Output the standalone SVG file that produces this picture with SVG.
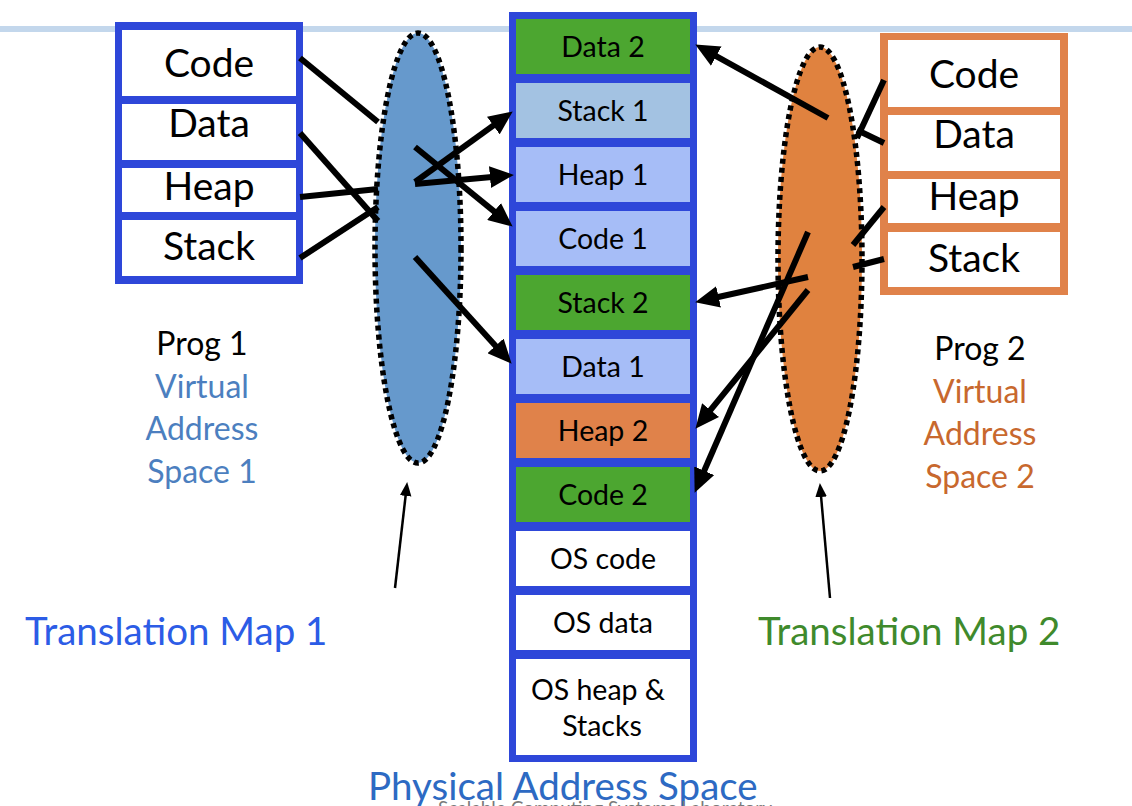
<svg xmlns="http://www.w3.org/2000/svg" width="1132" height="806" viewBox="0 0 1132 806">
<style>
text{font-family:Lato,"Open Sans","Liberation Sans",sans-serif;}
.vb{font-size:39px;fill:#000;text-anchor:middle;}
.pc{font-size:28.5px;fill:#000;text-anchor:middle;}
.lbl{font-size:32px;text-anchor:middle;}
.big{font-size:38.5px;}
.green{fill:#4ca630;}
.peri{fill:#a6bdf7;}
.lblue{fill:#a3c2e2;}
.orange{fill:#e0824a;}
.white{fill:#fff;}
.conn{stroke:#000;stroke-width:6;fill:none;stroke-linecap:butt;}
.thin{stroke:#000;stroke-width:2.5;fill:none;}
.ell{stroke:#000;stroke-width:5.5;stroke-dasharray:5 4;}
</style>
<defs>
<marker id="ah" markerUnits="userSpaceOnUse" markerWidth="24" markerHeight="22" refX="12" refY="10" orient="auto" viewBox="0 0 22 20">
<path d="M0,0 L22,10 L0,20 z" fill="#000"/>
</marker>
<marker id="ahs" markerUnits="userSpaceOnUse" markerWidth="14" markerHeight="12" refX="6" refY="5" orient="auto" viewBox="0 0 12 10">
<path d="M0,0 L12,5 L0,10 z" fill="#000"/>
</marker>
</defs>
<rect width="1132" height="806" fill="#fff"/>
<rect x="0" y="26" width="1132" height="6" fill="#c3d7ec"/>

<g id="prog1-vas">
<rect x="115" y="22" width="188" height="262" fill="#2e47d9"/>
<rect x="122" y="30" width="174" height="66" class="white"/>
<rect x="122" y="104" width="174" height="56" class="white"/>
<rect x="122" y="168" width="174" height="44" class="white"/>
<rect x="122" y="220" width="174" height="56" class="white"/>
<text class="vb" x="209" y="77">Code</text>
<text class="vb" x="209" y="137">Data</text>
<text class="vb" x="209" y="200">Heap</text>
<text class="vb" x="209" y="260">Stack</text>
</g>

<g id="prog2-vas">
<rect x="880" y="33" width="188" height="262" fill="#e0824a"/>
<rect x="888" y="40" width="172" height="67" class="white"/>
<rect x="888" y="115" width="172" height="56" class="white"/>
<rect x="888" y="179" width="172" height="44" class="white"/>
<rect x="888" y="232" width="172" height="55" class="white"/>
<text class="vb" x="974" y="88">Code</text>
<text class="vb" x="974" y="148">Data</text>
<text class="vb" x="974" y="210">Heap</text>
<text class="vb" x="974" y="272">Stack</text>
</g>

<g id="translation-map-1">
<ellipse cx="418" cy="248" rx="43" ry="215" fill="#6699cc" class="ell"/>
</g>
<g id="translation-map-2">
<ellipse cx="820" cy="259" rx="42" ry="212" fill="#e0823f" class="ell"/>
</g>

<g id="physical-address-space">
<rect x="509" y="12" width="188" height="750" fill="#2e47d9"/>
<rect x="516" y="19" width="174" height="55" class="green"/>
<rect x="516" y="83" width="174" height="55" class="lblue"/>
<rect x="516" y="147" width="174" height="55" class="peri"/>
<rect x="516" y="211" width="174" height="55" class="peri"/>
<rect x="516" y="275" width="174" height="55" class="green"/>
<rect x="516" y="339" width="174" height="55" class="peri"/>
<rect x="516" y="403" width="174" height="55" class="orange"/>
<rect x="516" y="467" width="174" height="55" class="green"/>
<rect x="516" y="531" width="174" height="55" class="white"/>
<rect x="516" y="595" width="174" height="55" class="white"/>
<rect x="516" y="659" width="174" height="96" class="white"/>
<text class="pc" x="603" y="57">Data 2</text>
<text class="pc" x="603" y="121">Stack 1</text>
<text class="pc" x="603" y="185">Heap 1</text>
<text class="pc" x="603" y="249">Code 1</text>
<text class="pc" x="603" y="313">Stack 2</text>
<text class="pc" x="603" y="377">Data 1</text>
<text class="pc" x="603" y="441">Heap 2</text>
<text class="pc" x="603" y="505">Code 2</text>
<text class="pc" x="603" y="569">OS code</text>
<text class="pc" x="603" y="633">OS data</text>
<text class="pc" x="598" y="700">OS heap &amp;</text>
<text class="pc" x="602" y="736">Stacks</text>
</g>

<g id="connectors">
<line class="conn" x1="300" y1="58" x2="378" y2="122"/>
<line class="conn" x1="300" y1="133" x2="378" y2="221"/>
<line class="conn" x1="300" y1="197" x2="378" y2="189"/>
<line class="conn" x1="300" y1="258" x2="378" y2="207"/>
<line class="conn" x1="415" y1="147" x2="504.2" y2="219.7" marker-end="url(#ah)"/>
<line class="conn" x1="415" y1="184" x2="503" y2="175.9" marker-end="url(#ah)"/>
<line class="conn" x1="415" y1="182" x2="503.9" y2="117.9" marker-end="url(#ah)"/>
<line class="conn" x1="415" y1="257" x2="504.3" y2="355.6" marker-end="url(#ah)"/>
<line class="conn" x1="884" y1="80" x2="857" y2="138"/>
<line class="conn" x1="884" y1="143" x2="857" y2="130"/>
<line class="conn" x1="884" y1="207" x2="853" y2="245"/>
<line class="conn" x1="884" y1="259" x2="853" y2="267"/>
<line class="conn" x1="828" y1="118" x2="704.8" y2="49.8" marker-end="url(#ah)"/>
<line class="conn" x1="808" y1="277" x2="705.8" y2="299.8" marker-end="url(#ah)"/>
<line class="conn" x1="808" y1="290" x2="702.3" y2="420.2" marker-end="url(#ah)"/>
<line class="conn" x1="808" y1="232" x2="699" y2="482.8" marker-end="url(#ah)"/>
<line class="thin" x1="395" y1="588" x2="406.4" y2="489" marker-end="url(#ahs)"/>
<line class="thin" x1="830" y1="598" x2="820.5" y2="490" marker-end="url(#ahs)"/>
</g>

<g id="labels">
<text class="lbl" x="202" y="355" fill="#000">Prog 1</text>
<text class="lbl" x="202" y="398" fill="#4c7fbf">Virtual</text>
<text class="lbl" x="202" y="440" fill="#4c7fbf">Address</text>
<text class="lbl" x="202" y="483" fill="#4c7fbf">Space 1</text>
<text class="lbl" x="980" y="360" fill="#000">Prog 2</text>
<text class="lbl" x="980" y="403" fill="#c8682e">Virtual</text>
<text class="lbl" x="980" y="445" fill="#c8682e">Address</text>
<text class="lbl" x="980" y="488" fill="#c8682e">Space 2</text>
<text class="big" x="25" y="645" fill="#2c5ce6">Translation Map 1</text>
<text class="big" x="758" y="645" fill="#3f8a2c">Translation Map 2</text>
<text class="big" x="368" y="800" fill="#2d6ac3">Physical Address Space</text>
<text x="438" y="815" font-size="19" fill="#7a7a7a">Scalable Computing Systems Laboratory</text>
</g>
</svg>
